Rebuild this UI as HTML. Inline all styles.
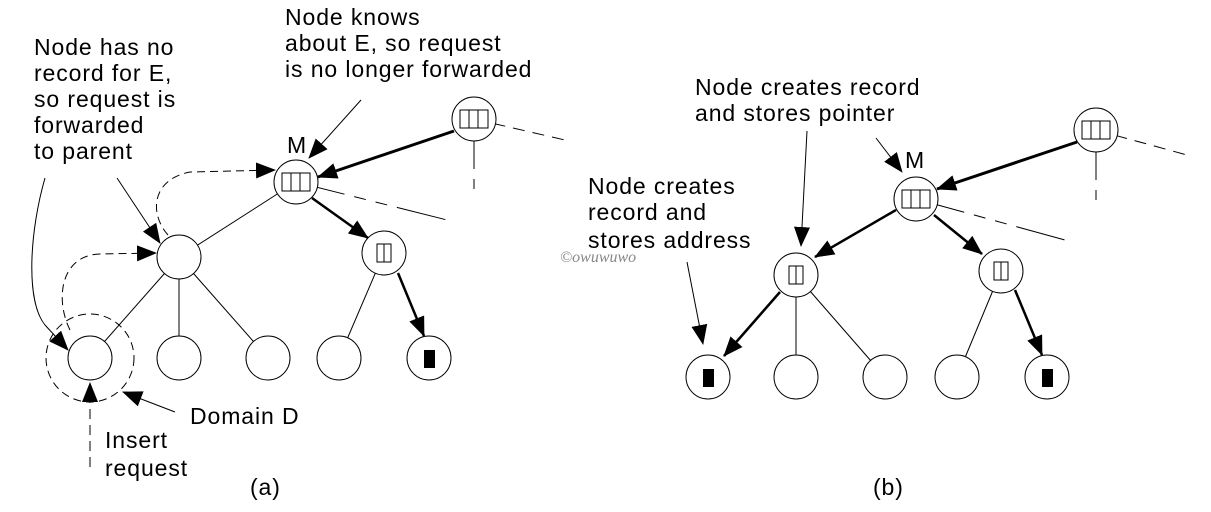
<!DOCTYPE html>
<html><head><meta charset="utf-8"><style>
html,body{margin:0;padding:0;background:#fff;}
svg{display:block;}
text{font-family:"Liberation Sans",Arial,sans-serif;font-size:23px;letter-spacing:0.9px;fill:#000;}
</style></head><body>
<svg width="1211" height="512" viewBox="0 0 1211 512" xmlns="http://www.w3.org/2000/svg">
<defs>
<marker id="aw" markerWidth="20" markerHeight="16" refX="19" refY="8" orient="auto" markerUnits="userSpaceOnUse" viewBox="0 0 20 16">
<path d="M0,0 L20,8 L0,16 Z" fill="#000"/></marker>
</defs>
<g stroke="#000" fill="none" stroke-width="1">
<line x1="296" y1="182" x2="179" y2="257"/>
<line x1="179" y1="257" x2="90" y2="358"/>
<line x1="179" y1="257" x2="179" y2="358"/>
<line x1="179" y1="257" x2="268" y2="358"/>
<line x1="384" y1="253" x2="339" y2="358"/>
<line x1="474" y1="119" x2="565" y2="140" stroke-dasharray="12,8"/>
<line x1="474" y1="119" x2="474" y2="195" stroke-dasharray="50,10,10,100"/>
<line x1="296" y1="182" x2="455" y2="222" stroke-dasharray="50,10,12,10,12,10"/>
<line x1="454" y1="131" x2="318" y2="177" stroke-width="3" marker-end="url(#aw)"/>
<line x1="312" y1="198" x2="368" y2="238" stroke-width="2.5" marker-end="url(#aw)"/>
<line x1="398" y1="273" x2="424" y2="336" stroke-width="2.5" marker-end="url(#aw)"/>
<path d="M168,235 C150,215 150,180 190,172 L275,170" stroke-dasharray="8,5" marker-end="url(#aw)"/>
<path d="M70,330 C55,300 60,255 100,254 L156,253" stroke-dasharray="8,5" marker-end="url(#aw)"/>
<ellipse cx="90" cy="358" rx="44" ry="44" stroke-dasharray="8,5"/>
<line x1="90" y1="467" x2="90" y2="383" stroke-dasharray="10,6" marker-end="url(#aw)"/>
<line x1="175" y1="412" x2="123" y2="392" marker-end="url(#aw)"/>
<path d="M45,178 C30,230 25,300 45,325 L68,350" marker-end="url(#aw)"/>
<line x1="117" y1="178" x2="160" y2="243" marker-end="url(#aw)"/>
<line x1="361" y1="100" x2="309" y2="158" marker-end="url(#aw)"/>
<line x1="796" y1="275" x2="796" y2="377"/>
<line x1="796" y1="275" x2="885" y2="377"/>
<line x1="1001" y1="271" x2="957" y2="377"/>
<line x1="1096" y1="130" x2="1187" y2="155" stroke-dasharray="12,8"/>
<line x1="1096" y1="130" x2="1096" y2="210" stroke-dasharray="50,10,10,100"/>
<line x1="916" y1="199" x2="1065" y2="240" stroke-dasharray="50,10,12,10,12,10"/>
<line x1="1077" y1="142" x2="937" y2="189" stroke-width="3" marker-end="url(#aw)"/>
<line x1="896" y1="210" x2="815" y2="257" stroke-width="2.5" marker-end="url(#aw)"/>
<line x1="934" y1="215" x2="982" y2="254" stroke-width="2.5" marker-end="url(#aw)"/>
<line x1="780" y1="292" x2="724" y2="356" stroke-width="2.5" marker-end="url(#aw)"/>
<line x1="1015" y1="290" x2="1042" y2="355" stroke-width="2.5" marker-end="url(#aw)"/>
<line x1="807" y1="131" x2="801" y2="246" marker-end="url(#aw)"/>
<line x1="876" y1="138" x2="902" y2="172" marker-end="url(#aw)"/>
<line x1="687" y1="262" x2="703" y2="344" marker-end="url(#aw)"/>
</g>
<g stroke="#000" fill="#fff" stroke-width="1">
<circle cx="474" cy="119" r="22"/><circle cx="296" cy="182" r="22"/>
<circle cx="179" cy="257" r="22"/><circle cx="384" cy="253" r="22"/>
<circle cx="90" cy="358" r="22"/><circle cx="179" cy="358" r="22"/>
<circle cx="268" cy="358" r="22"/><circle cx="339" cy="358" r="22"/>
<circle cx="429" cy="358" r="22"/>
<circle cx="1096" cy="130" r="22"/><circle cx="916" cy="199" r="22"/>
<circle cx="796" cy="275" r="22"/><circle cx="1001" cy="271" r="22"/>
<circle cx="708" cy="377" r="22"/><circle cx="796" cy="377" r="22"/>
<circle cx="885" cy="377" r="22"/><circle cx="957" cy="377" r="22"/>
<circle cx="1047" cy="377" r="22"/>
</g>
<g stroke="#000" fill="none" stroke-width="1">
<rect x="460" y="110" width="28" height="18"/><line x1="469" y1="110" x2="469" y2="128"/><line x1="478" y1="110" x2="478" y2="128"/>
<rect x="282" y="173" width="28" height="18"/><line x1="291" y1="173" x2="291" y2="191"/><line x1="300" y1="173" x2="300" y2="191"/>
<rect x="377" y="244" width="14" height="18"/><line x1="384" y1="244" x2="384" y2="262"/>
<rect x="1082" y="121" width="28" height="18"/><line x1="1091" y1="121" x2="1091" y2="139"/><line x1="1100" y1="121" x2="1100" y2="139"/>
<rect x="902" y="190" width="28" height="18"/><line x1="911" y1="190" x2="911" y2="208"/><line x1="920" y1="190" x2="920" y2="208"/>
<rect x="789" y="266" width="14" height="18"/><line x1="796" y1="266" x2="796" y2="284"/>
<rect x="994" y="262" width="14" height="18"/><line x1="1001" y1="262" x2="1001" y2="280"/>
</g>
<rect x="424" y="350" width="11" height="18" fill="#000"/>
<rect x="703" y="369" width="11" height="18" fill="#000"/>
<rect x="1042" y="369" width="11" height="18" fill="#000"/>
<text x="34" y="55">Node has no</text>
<text x="34" y="81">record for E,</text>
<text x="34" y="107">so request is</text>
<text x="34" y="133">forwarded</text>
<text x="34" y="159">to parent</text>
<text x="285" y="25">Node knows</text>
<text x="285" y="51">about E, so request</text>
<text x="285" y="77">is no longer forwarded</text>
<text x="287" y="153">M</text>
<text x="190" y="424">Domain D</text>
<text x="105" y="448">Insert</text>
<text x="105" y="476">request</text>
<text x="250" y="495">(a)</text>
<text x="695" y="95">Node creates record</text>
<text x="695" y="121">and stores pointer</text>
<text x="905" y="168">M</text>
<text x="588" y="194">Node creates</text>
<text x="588" y="220">record and</text>
<text x="588" y="248">stores address</text>
<text x="873" y="495">(b)</text>
<text x="560" y="262" style="font-family:'Liberation Serif',serif;font-style:italic;font-size:16px;letter-spacing:0;fill:#888">©owuwuwo</text>
</svg>
</body></html>
